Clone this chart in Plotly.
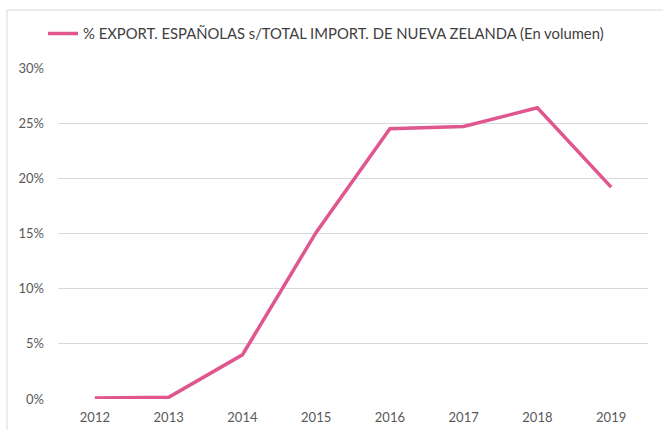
import plotly.graph_objects as go

years = ["2012", "2013", "2014", "2015", "2016", "2017", "2018", "2019"]
share_pct = [0.1, 0.15, 4.0, 15.1, 24.5, 24.7, 26.4, 19.2]
values = [v / 100 for v in share_pct]
series_name = "% EXPORT. ESPAÑOLAS s/TOTAL IMPORT. DE NUEVA ZELANDA (En volumen)"
y_ticks = [0, 0.05, 0.10, 0.15, 0.20, 0.25, 0.30]

W, H = 663, 430
L, R, T, B = 58, 15, 68, 31
pw, ph = W - L - R, H - T - B

def px_x(p):
    return (p - L) / pw

def px_y(p):
    return (H - B - p) / ph

fig = go.Figure()
fig.add_trace(go.Scatter(
    x=years, y=values, mode="lines", name=series_name,
    line=dict(color="#E0568F", width=3.5),
))

fig.update_layout(
    width=W, height=H,
    margin=dict(l=L, r=R, t=T, b=B, autoexpand=False),
    paper_bgcolor="white", plot_bgcolor="white",
    font=dict(family="Lato, Open Sans, sans-serif", size=13, color="#595959"),
    showlegend=True,
    legend=dict(orientation="h", x=px_x(43), xanchor="left", y=px_y(34), yanchor="middle",
                font=dict(size=14.8, color="#404040"), bgcolor="rgba(0,0,0,0)"),
    xaxis=dict(type="category", range=[-0.5, 7.5], showgrid=False, showline=False,
               zeroline=False, ticks="", ticklabelstandoff=9, automargin=False,
               tickfont=dict(size=13, color="#595959")),
    yaxis=dict(range=[0, 0.30], tickvals=y_ticks, tickformat=".0%", showgrid=True,
               gridcolor="#D9D9D9", gridwidth=1, zeroline=False, showline=False,
               ticks="", ticklabelstandoff=13, automargin=False,
               tickfont=dict(size=13, color="#595959")),
    shapes=[dict(type="rect", xref="paper", yref="paper",
                 x0=px_x(7), x1=px_x(W + 5), y0=px_y(H + 5), y1=px_y(10),
                 line=dict(color="#D9D9D9", width=1), layer="below")],
)

fig.write_html("out.html")
